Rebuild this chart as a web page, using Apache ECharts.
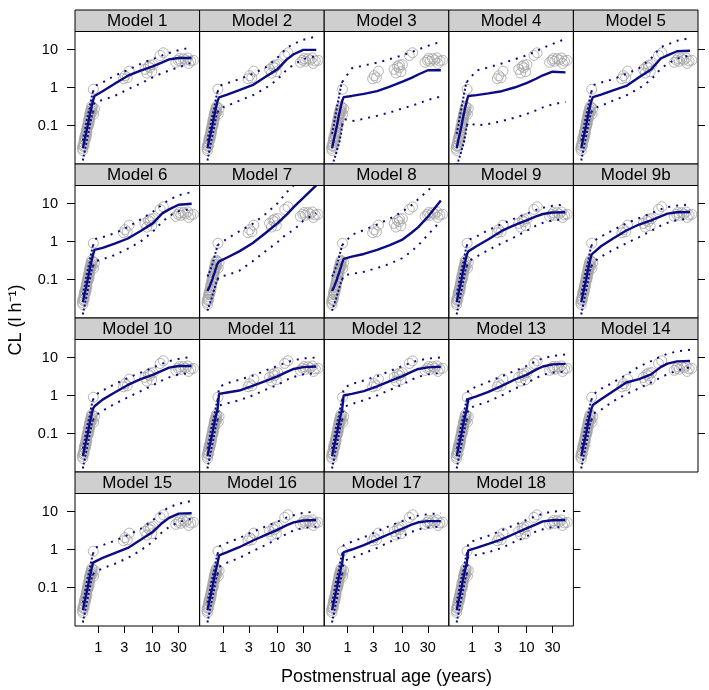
<!DOCTYPE html>
<html><head><meta charset="utf-8">
<script src="https://cdn.jsdelivr.net/npm/echarts@6/dist/echarts.min.js"></script>
<style>html,body{margin:0;padding:0;background:#fff}#c{width:709px;height:690px}</style>
</head><body><div id="c"></div><script>
// ---------- DATA ----------
const models = ['Model 1','Model 2','Model 3','Model 4','Model 5','Model 6','Model 7','Model 8','Model 9','Model 9b',
  'Model 10','Model 11','Model 12','Model 13','Model 14','Model 15','Model 16','Model 17','Model 18'];
const xTicks = [1, 3, 10, 30];
const yTicks = [0.1, 1, 10];

// observed clearance (shared by all panels)
const obsAge = [0.51,0.52,0.52,0.53,0.54,0.55,0.55,0.56,0.57,0.58,0.58,0.59,0.60,0.60,0.61,0.62,0.62,0.63,0.64,0.65,
  0.65,0.66,0.67,0.68,0.68,0.69,0.70,0.70,0.71,0.72,0.73,0.74,0.75,0.76,0.77,0.78,0.82,0.85,0.81,
  2.9,3.1,3.7,3.4,7.2,7.8,8.3,8.9,9.6,10.2,9.0,13.7,15.7,26.6,29.5,31,36.5,33,40,46,50,56,44];
const obsCL = [0.025,0.03,0.022,0.028,0.035,0.03,0.042,0.048,0.04,0.055,0.045,0.06,0.07,0.052,0.075,0.085,0.065,0.1,0.09,0.11,
  0.13,0.1,0.14,0.16,0.12,0.18,0.15,0.21,0.19,0.24,0.2,0.28,0.25,0.32,0.22,0.3,0.2,0.28,0.9,
  1.7,2.05,2.7,1.8,3.0,2.4,3.6,3.3,2.6,4.0,3.9,7.0,8.2,4.6,5.2,5.8,5.75,4.9,5.3,4.3,5.0,5.2,6.0];

// neonatal prediction ages and percentiles (three patterns)
const neoAge = [0.52,0.54,0.56,0.58,0.60,0.62,0.64,0.66,0.68,0.70,0.72,0.74,0.76,0.78,0.80];
const neoMedStd = [0.025,0.027,0.042,0.045,0.065,0.07,0.1,0.11,0.16,0.16,0.23,0.24,0.33,0.35,0.45];
const neoLoStd  = [0.012,0.016,0.02,0.027,0.03,0.042,0.045,0.065,0.07,0.1,0.1,0.15,0.15,0.21,0.22];
const neoHiStd  = [0.04,0.055,0.065,0.09,0.1,0.15,0.16,0.22,0.25,0.33,0.36,0.48,0.5,0.7,0.75];
const neoLoWide = [0.009,0.01,0.012,0.014,0.016,0.019,0.022,0.026,0.03,0.035,0.04,0.05,0.06,0.08,0.1];
const neoHiWide = [0.06,0.08,0.1,0.14,0.18,0.24,0.3,0.38,0.48,0.6,0.75,0.9,1.1,1.3,1.4];
const neoMed78  = [0.05,0.055,0.062,0.07,0.08,0.09,0.1,0.12,0.13,0.15,0.17,0.19,0.22,0.25,0.28];
const neoLo78   = [0.015,0.018,0.02,0.024,0.028,0.032,0.038,0.044,0.05,0.058,0.066,0.075,0.085,0.095,0.1];
const neoHi78   = [0.12,0.13,0.15,0.17,0.19,0.22,0.25,0.29,0.34,0.4,0.46,0.54,0.62,0.72,0.8];
// which neonatal pattern each model uses (0 std, 1 wide, 2 model 7/8)
const neoSet = [0,0,1,1,0,0,2,2,0,0,0,0,0,0,0,0,0,0,0];

// child/adult prediction ages and percentiles per model
const childAge = [0.85,1.2,2,3.5,6,10,15,20,30,52];
const childMed = [
  [0.6,0.8,1.26,2.05,2.8,3.6,4.6,5.5,6.0,6.0],
  [0.55,0.65,0.85,1.15,1.9,3.0,5.5,7.5,9.8,9.8],
  [0.56,0.6,0.68,0.8,1.05,1.4,1.8,2.2,2.85,2.85],
  [0.6,0.63,0.7,0.8,1.0,1.3,1.7,2.1,2.6,2.5],
  [0.56,0.65,0.84,1.1,1.85,3.0,5.8,7.0,9.0,9.3],
  [0.6,0.68,0.88,1.2,1.9,3.0,5.5,7.0,9.3,9.9],
  [0.3,0.38,0.55,0.9,1.65,3.0,5.2,8.0,14,30],
  [0.35,0.4,0.47,0.6,0.8,1.1,1.7,2.4,4.5,12],
  [0.55,0.75,1.15,1.9,2.7,3.6,4.6,5.3,5.8,5.9],
  [0.5,0.75,1.2,1.95,2.8,3.6,4.6,5.4,5.9,6.0],
  [0.52,0.78,1.2,1.9,2.7,3.5,4.5,5.4,6.0,6.0],
  [1.1,1.2,1.35,1.8,2.4,3.2,4.2,5.0,5.6,5.8],
  [1.0,1.1,1.3,1.75,2.4,3.2,4.2,5.0,5.5,5.7],
  [0.8,0.95,1.25,1.8,2.6,3.5,4.8,5.8,6.6,6.8],
  [0.56,0.8,1.3,2.2,2.7,3.6,5.6,6.9,7.9,8.1],
  [0.5,0.6,0.8,1.1,1.8,2.9,5.0,6.8,8.8,9.0],
  [0.7,0.85,1.15,1.7,2.4,3.3,4.4,5.2,5.8,6.0],
  [0.85,1.0,1.3,1.85,2.6,3.5,4.5,5.2,5.6,5.6],
  [0.95,1.1,1.4,1.85,2.6,3.6,4.6,5.5,5.9,6.0]
];
const childHi = [
  [1.1,1.35,2.05,2.9,4.2,5.6,7.0,8.1,9.6,11.5],
  [1.1,1.3,1.65,2.3,3.3,6.0,11,14,18,22],
  [1.5,3.2,3.8,4.5,5.6,7.0,8.5,10,12.5,16],
  [1.5,2.8,3.4,4.3,5.5,7,9,11,14,19],
  [1.15,1.35,1.65,2.3,3.2,5.8,11.5,13.5,17,20],
  [1.15,1.3,1.65,2.4,3.8,6.0,9.5,12.5,16.5,20],
  [0.83,1.2,1.85,2.9,5.2,10,20,30,45,70],
  [0.9,1.5,2.0,2.8,4.0,6,9,13,22,45],
  [1.1,1.35,2.0,2.9,4.0,5.4,6.8,7.7,8.7,9.5],
  [1.0,1.35,2.0,3.0,4.1,5.5,7,8,8.8,9.5],
  [1.0,1.35,2.0,2.9,4.0,5.4,6.9,8.0,9.2,10.5],
  [1.7,2.1,2.6,3.3,4.5,6.0,7.5,8.5,9.5,10],
  [1.6,2.0,2.5,3.2,4.4,5.9,7.4,8.4,9.4,10],
  [1.4,1.7,2.3,3.2,4.4,6.0,8.0,9.5,11,12],
  [1.05,1.5,2.2,3.5,5.8,8.0,10.8,12.5,14.5,16],
  [1.1,1.3,1.7,2.4,3.5,5.8,10,13,16,19],
  [1.2,1.5,2.0,2.9,4.0,5.4,7.0,8.0,9.2,10],
  [1.3,1.6,2.1,3.0,4.2,5.6,7.0,7.8,8.5,9.0],
  [1.5,1.8,2.3,3.2,4.4,6.0,7.6,8.7,10,10.3]
];
const childLo = [
  [0.4,0.47,0.6,0.9,1.28,1.85,2.4,2.8,3.4,4.5],
  [0.28,0.33,0.45,0.62,0.95,1.6,3.0,4.0,5.6,6.8],
  [0.15,0.13,0.15,0.18,0.22,0.28,0.33,0.38,0.47,0.58],
  [0.12,0.1,0.11,0.13,0.16,0.2,0.25,0.3,0.36,0.42],
  [0.28,0.33,0.45,0.62,0.95,1.6,3.1,4.2,5.8,7.0],
  [0.3,0.34,0.44,0.65,1.0,1.8,3.3,4.7,6.3,7.2],
  [0.12,0.13,0.17,0.3,0.55,0.95,1.6,2.0,3.5,5.6],
  [0.13,0.14,0.16,0.2,0.26,0.36,0.55,0.8,1.5,3.5],
  [0.3,0.4,0.6,0.9,1.3,1.9,2.6,3.1,3.6,3.9],
  [0.28,0.4,0.6,0.9,1.3,1.9,2.6,3.1,3.7,4.0],
  [0.28,0.4,0.6,0.9,1.3,1.85,2.5,3.0,3.6,4.0],
  [0.55,0.62,0.75,1.0,1.4,1.9,2.6,3.1,3.6,3.9],
  [0.5,0.6,0.75,1.0,1.4,1.9,2.6,3.1,3.6,3.9],
  [0.45,0.55,0.7,1.0,1.5,2.1,2.9,3.5,4.0,4.3],
  [0.33,0.42,0.7,1.1,1.55,2.2,3.0,3.6,4.6,5.5],
  [0.25,0.32,0.42,0.6,0.95,1.6,2.9,3.9,5.3,6.5],
  [0.35,0.45,0.6,0.9,1.3,1.9,2.6,3.2,3.7,4.0],
  [0.5,0.6,0.8,1.1,1.6,2.2,2.9,3.4,3.8,4.0],
  [0.62,0.72,0.85,1.1,1.6,2.2,3.0,3.4,3.9,3.8]
];

// ---------- LAYOUT ----------
const L0 = 75, PW = 124.6, T0 = 10, SH = 21.5, PH = 132.5, RP = 154;
const XMIN = 0.373, XMAX = 72.8, YMIN = 0.0097, YMAX = 29.8;
const NAVY = '#0b0b85', GREY = '#a2a2a2';
const FONT = '"Liberation Sans", Arial, Helvetica, sans-serif';

const neoMedSets = [neoMedStd, neoMedStd, neoMed78];
const neoLoSets = [neoLoStd, neoLoWide, neoLo78];
const neoHiSets = [neoHiStd, neoHiWide, neoHi78];
const pairs = (ages, vals) => ages.map((a, k) => [a, vals[k]]);

const grids = [], xAxes = [], yAxes = [], series = [], graphics = [];
const obsData = pairs(obsAge, obsCL);
const nRows = Math.ceil(models.length / 5);

models.forEach((name, i) => {
  const row = Math.floor(i / 5), col = i % 5;
  const lastInRow = (col === 4) || (i === models.length - 1);
  const left = L0 + col * PW, top = T0 + row * RP + SH;
  grids.push({left: left, top: top, width: PW, height: PH, show: true,
    borderColor: '#000', borderWidth: 1, backgroundColor: 'transparent'});
  const xb = xAxes.length;
  xAxes.push({type: 'log', logBase: 10, gridIndex: i, position: 'bottom', min: XMIN, max: XMAX,
    axisLine: {show: false}, splitLine: {show: false},
    axisTick: {show: row === nRows - 1, length: 7, customValues: xTicks, lineStyle: {color: '#000', width: 1}},
    axisLabel: {show: row === nRows - 1, customValues: xTicks, margin: 14, fontSize: 14.5, color: '#000',
      fontFamily: FONT, formatter: v => String(v)}});
  if (row === 0) {
    xAxes.push({type: 'log', logBase: 10, gridIndex: i, position: 'top', min: XMIN, max: XMAX,
      axisLine: {show: false}, splitLine: {show: false},
      axisTick: {show: true, length: 10, customValues: xTicks, lineStyle: {color: '#000', width: 1}},
      axisLabel: {show: false}});
  }
  const yl = yAxes.length;
  yAxes.push({type: 'log', logBase: 10, gridIndex: i, position: 'left', min: YMIN, max: YMAX,
    axisLine: {show: false}, splitLine: {show: false},
    axisTick: {show: col === 0, length: 8, customValues: yTicks, lineStyle: {color: '#000', width: 1}},
    axisLabel: {show: col === 0, customValues: yTicks, margin: 17, fontSize: 14.5, color: '#000',
      fontFamily: FONT, formatter: v => String(v)}});
  if (lastInRow) {
    yAxes.push({type: 'log', logBase: 10, gridIndex: i, position: 'right', min: YMIN, max: YMAX,
      axisLine: {show: false}, splitLine: {show: false},
      axisTick: {show: true, length: 7, customValues: yTicks, lineStyle: {color: '#000', width: 1}},
      axisLabel: {show: false}});
  }
  const s = neoSet[i];
  const neoLo = pairs(neoAge, neoLoSets[s]), neoHi = pairs(neoAge, neoHiSets[s]);
  const chLo = pairs(childAge, childLo[i]), chHi = pairs(childAge, childHi[i]);
  const med = pairs(neoAge, neoMedSets[s]).concat(pairs(childAge, childMed[i]));
  series.push({type: 'scatter', xAxisIndex: xb, yAxisIndex: yl, data: obsData, symbol: 'circle', symbolSize: 10,
    itemStyle: {color: 'rgba(0,0,0,0)', borderColor: GREY, borderWidth: 1}, silent: true, z: 2});
  // neonatal part of the percentile lines: dense dots
  [neoLo, neoHi].forEach(d => series.push({type: 'line', xAxisIndex: xb, yAxisIndex: yl, data: d, showSymbol: false,
    lineStyle: {color: NAVY, width: 2, type: [2, 2]}, silent: true, z: 3}));
  // child/adult part: sparse dots (joined to the last neonatal point)
  [[neoLo, chLo], [neoHi, chHi]].forEach(p => series.push({type: 'line', xAxisIndex: xb, yAxisIndex: yl,
    data: [p[0][p[0].length - 1]].concat(p[1]), showSymbol: false,
    lineStyle: {color: NAVY, width: 2, type: [2, 6]}, silent: true, z: 3}));
  series.push({type: 'line', xAxisIndex: xb, yAxisIndex: yl, data: med, showSymbol: false,
    lineStyle: {color: NAVY, width: 2.4}, silent: true, z: 4});
  // strip
  graphics.push({type: 'rect', shape: {x: left, y: T0 + row * RP, width: PW, height: SH},
    style: {fill: '#cfcfcf', stroke: '#000', lineWidth: 1}, z: 10});
  graphics.push({type: 'text', x: left + PW / 2, y: T0 + row * RP + SH / 2 + 1,
    style: {text: name, font: '17px ' + FONT, fill: '#000', align: 'center', verticalAlign: 'middle'}, z: 11});
});

graphics.push({type: 'text', x: 386.5, y: 677,
  style: {text: 'Postmenstrual age (years)', font: '18px ' + FONT, fill: '#000', align: 'center', verticalAlign: 'middle'}});
graphics.push({type: 'text', x: 16, y: 320, rotation: Math.PI / 2,
  style: {text: 'CL (l h⁻¹)', font: '18px ' + FONT, fill: '#000', align: 'center', verticalAlign: 'middle'}});

const chart = echarts.init(document.getElementById('c'), null, {renderer: 'canvas'});
chart.setOption({animation: false, grid: grids, xAxis: xAxes, yAxis: yAxes, series: series, graphic: graphics});
</script></body></html>
